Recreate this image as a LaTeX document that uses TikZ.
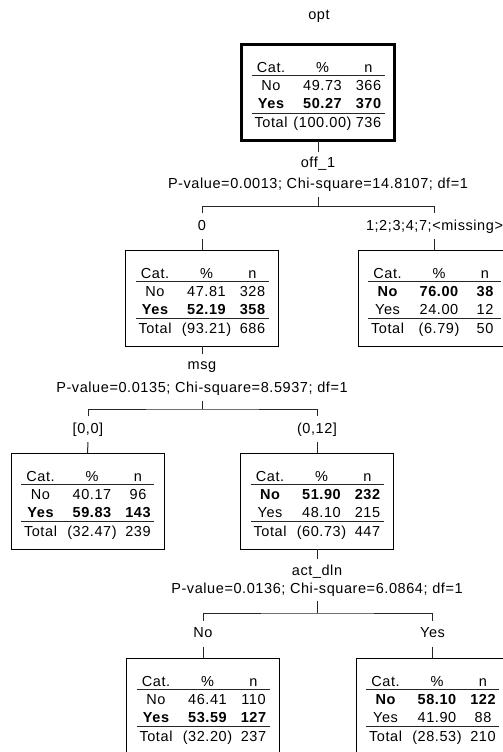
\documentclass[tikz,border=0pt]{standalone}
\usepackage{fontspec}
\setmainfont{Liberation Sans}[LetterSpace=4]
\newcommand\fs{\fontsize{14.5}{17}\selectfont}
\tikzset{
  every node/.style={font=\fs, text=black},
  thinbox/.style={draw=black, line width=1pt},
  thickbox/.style={draw=black, line width=3pt},
  cell/.style={anchor=base, inner sep=0pt},
  varlbl/.style={anchor=base, inner sep=5pt, text height=10.5pt, text depth=3pt},
  brlbl/.style={anchor=base, inner sep=6pt, text height=10.5pt, text depth=3pt},
  conn/.style={draw=black!85, line width=1pt},
  tabrule/.style={draw=black!85, line width=1pt},
}
\newcommand\catbox[5]{%
  \node[#4, minimum width=153pt, minimum height=96pt, anchor=north, inner sep=0pt, outer sep=0pt] (#1) at (#2,#3) {};
  \ifnum#5=1 \def\fno{\bfseries}\def\fyes{}\else\def\fno{}\def\fyes{\bfseries}\fi
}
\newcommand\catrows[7]{%
  \begin{scope}[shift={(#1.north west)}]
    \node[cell] (#1-hc) at (29.5,28) {Cat.};
    \node[cell] (#1-hp) at (81,28) {\%};
    \node[cell] (#1-hn) at (127,28) {n};
    \draw[tabrule] (10,31) -- (143,31);
    \node[cell] (#1-ac) at (29.5,46) {\fno No};
    \node[cell] (#1-ap) at (81,46) {\fno #2};
    \node[cell] (#1-an) at (127,46) {\fno #3};
    \node[cell] (#1-bc) at (29.5,64) {\fyes Yes};
    \node[cell] (#1-bp) at (81,64) {\fyes #4};
    \node[cell] (#1-bn) at (127,64) {\fyes #5};
    \draw[tabrule] (10,68.5) -- (143,68.5);
    \node[cell] (#1-tc) at (29.5,83) {Total};
    \node[cell] (#1-tp) at (81,83) {#6};
    \node[cell] (#1-tn) at (127,83) {#7};
  \end{scope}
}
\begin{document}
\begin{tikzpicture}[x=1pt,y=-1pt]
\useasboundingbox (0,0) rectangle (503,752);
\clip (0,0) rectangle (503,752);
\fill[white] (0,0) rectangle (503,752);

% root
\node[varlbl] (opt) at (319,20) {opt};
\catbox{top}{318}{44.8}{thickbox}{2}
\catrows{top}{49.73}{366}{50.27}{370}{(100.00)}{736}
\node[varlbl] (v1) at (318,167.5) {off\_1};
\node[varlbl] (p1) at (318,188.5) {P-value=0.0013; Chi-square=14.8107; df=1};
\coordinate (j1) at (318,206.5);
\draw[conn] (top.south) -- (v1.north);
\draw[conn] (p1.south) -- (j1);
\node[brlbl] (b11) at (202,230) {0};
\node[brlbl] (b12) at (434.5,230) {1;2;3;4;7;<missing>};
\draw[conn] (b11.north) |- (j1) -| (b12.north);

% level 1
\catbox{n1}{202}{250}{thinbox}{2}
\catrows{n1}{47.81}{328}{52.19}{358}{(93.21)}{686}
\catbox{n2}{434.5}{250}{thinbox}{1}
\catrows{n2}{76.00}{38}{24.00}{12}{(6.79)}{50}
\draw[conn] (b11.south) -- (n1.north);
\draw[conn] (b12.south) -- (n2.north);

\node[varlbl] (v2) at (202,369.5) {msg};
\node[varlbl] (p2) at (202,392.5) {P-value=0.0135; Chi-square=8.5937; df=1};
\coordinate (j2) at (202,409);
\draw[conn] (n1.south) -- (v2.north);
\draw[conn] (p2.south) -- (j2);
\node[brlbl] (b21) at (88,433) {[0,0]};
\node[brlbl] (b22) at (317,433) {(0,12]};
\draw[conn] (b21.north) |- (j2) -| (b22.north);

% level 2
\catbox{n3}{87.5}{453}{thinbox}{2}
\catrows{n3}{40.17}{96}{59.83}{143}{(32.47)}{239}
\catbox{n4}{317}{453}{thinbox}{1}
\catrows{n4}{51.90}{232}{48.10}{215}{(60.73)}{447}
\draw[conn] (b21.south) -- (n3.north);
\draw[conn] (b22.south) -- (n4.north);

\node[varlbl] (v3) at (317,575) {act\_dln};
\node[varlbl] (p3) at (317,593) {P-value=0.0136; Chi-square=6.0864; df=1};
\coordinate (j3) at (317,613);
\draw[conn] (n4.south) -- (v3.north);
\draw[conn] (p3.south) -- (j3);
\node[brlbl] (b31) at (203,637.5) {No};
\node[brlbl] (b32) at (432.5,637.5) {Yes};
\draw[conn] (b31.north) |- (j3) -| (b32.north);

% level 3
\catbox{n5}{203}{658}{thinbox}{2}
\catrows{n5}{46.41}{110}{53.59}{127}{(32.20)}{237}
\catbox{n6}{432.5}{658}{thinbox}{1}
\catrows{n6}{58.10}{122}{41.90}{88}{(28.53)}{210}
\draw[conn] (b31.south) -- (n5.north);
\draw[conn] (b32.south) -- (n6.north);
\end{tikzpicture}
\end{document}
